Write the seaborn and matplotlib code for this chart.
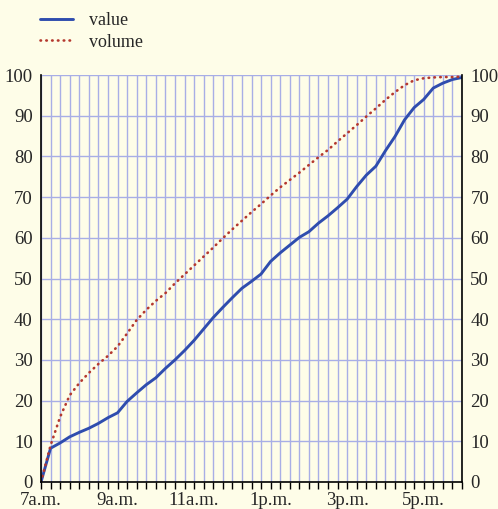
import pandas as pd
import seaborn as sns
import matplotlib.pyplot as plt
import matplotlib.ticker as mticker

# Dados (a cada 15 minutos, 7h às 18h)
horarios = ["7:00", "7:15", "7:30", "7:45", "8:00", "8:15", "8:30", "8:45",
            "9:00", "9:15", "9:30", "9:45", "10:00", "10:15", "10:30", "10:45",
            "11:00", "11:15", "11:30", "11:45", "12:00", "12:15", "12:30", "12:45",
            "13:00", "13:15", "13:30", "13:45", "14:00", "14:15", "14:30", "14:45",
            "15:00", "15:15", "15:30", "15:45", "16:00", "16:15", "16:30", "16:45",
            "17:00", "17:15", "17:30", "17:45", "18:00"]

valor = [0, 8.3, 9.6, 11.1, 12.2, 13.2, 14.4, 15.8,
         17.0, 19.8, 21.9, 23.9, 25.6, 27.9, 30.0, 32.3,
         34.8, 37.6, 40.4, 42.9, 45.3, 47.6, 49.3, 51.1,
         54.2, 56.3, 58.2, 60.1, 61.5, 63.6, 65.4, 67.4,
         69.5, 72.6, 75.4, 77.6, 81.4, 84.9, 89.0, 92.0,
         94.0, 96.8, 98.0, 98.9, 99.4]

volume = [0, 9.0, 16.0, 21.3, 24.3, 26.8, 29.0, 31.0,
          33.3, 36.5, 39.8, 42.3, 44.5, 46.4, 48.8, 51.0,
          53.2, 55.4, 57.6, 59.9, 62.1, 64.2, 66.3, 68.3,
          70.4, 72.4, 74.2, 76.0, 77.9, 79.8, 81.6, 83.7,
          85.7, 87.7, 89.8, 91.8, 93.9, 95.8, 97.5, 98.7,
          99.2, 99.4, 99.5, 99.5, 99.6]

rotulos_x = ["7a.m.", "9a.m.", "11a.m.", "1p.m.", "3p.m.", "5p.m."]

# Preparo dos dados
def para_horas(h):
    hh, mm = h.split(":")
    return int(hh) + int(mm) / 60

df = pd.DataFrame({"hora": [para_horas(h) for h in horarios],
                   "value": valor, "volume": volume})

fundo = "#FEFDE8"
sns.set_style("white")
plt.rcParams['font.family'] = ['Liberation Serif', 'DejaVu Serif']

fig = plt.figure(figsize=(4.98, 5.09), dpi=100, facecolor=fundo)
ax = fig.add_axes([41/498, 1 - 482/509, (462 - 41)/498, (482 - 75)/509])
ax.set_facecolor(fundo)

sns.lineplot(data=df, x="hora", y="value", ax=ax, color="#2F4DAE",
             linewidth=2.1, label="value")
sns.lineplot(data=df, x="hora", y="volume", ax=ax, color="#B5382E",
             linewidth=1.9, linestyle=(0, (0.2, 2.0)), label="volume",
             dash_capstyle="round")

ax.set_xlim(7, 18)
ax.set_ylim(0, 100)
ax.xaxis.set_major_locator(mticker.FixedLocator([7, 9, 11, 13, 15, 17]))
ax.xaxis.set_major_formatter(mticker.FixedFormatter(rotulos_x))
ax.xaxis.set_minor_locator(mticker.MultipleLocator(0.25))
ax.yaxis.set_major_locator(mticker.MultipleLocator(10))

ax.grid(axis='y', which='major', color="#A8AEE6", linewidth=1.0)
ax.grid(axis='x', which='both', color="#A8AEE6", linewidth=1.0)
ax.set_axisbelow(True)

ax.tick_params(axis='x', which='both', direction='out', length=5, width=1,
               color='black', labelsize=13.5, pad=2, bottom=True)
ax.tick_params(axis='y', which='both', length=0, labelsize=13.5, pad=6,
               labelleft=True, labelright=True)

ax.set_xlabel("")
ax.set_ylabel("")

for lado in ["left", "right", "bottom"]:
    ax.spines[lado].set_color("black")
    ax.spines[lado].set_linewidth(1.2)
ax.spines["top"].set_visible(False)

ax.legend(loc="upper left", bbox_to_anchor=(40/498, 1 - 12/509),
          bbox_transform=fig.transFigure, frameon=False, fontsize=13,
          handlelength=1.85, handletextpad=0.85, labelspacing=0.25,
          borderaxespad=0, borderpad=0)

plt.savefig("out.png", dpi=100, facecolor=fundo)
